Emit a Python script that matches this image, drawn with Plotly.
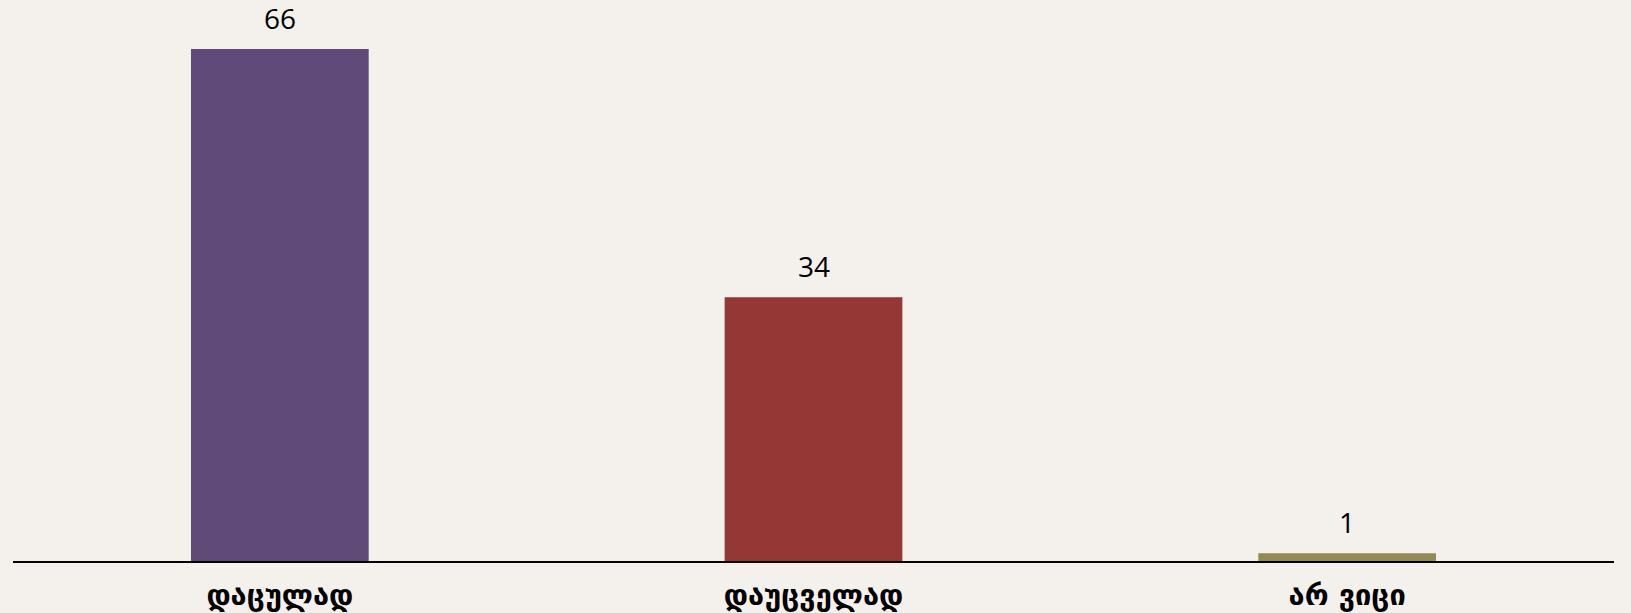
import plotly.graph_objects as go

categories = ['დაცულად', 'დაუცველად', 'არ ვიცი']
values = [66, 34, 1]
colors = ['#5F4A7A', '#953735', '#948A54']

fig = go.Figure()
fig.add_trace(go.Bar(x=categories, y=values, marker_color=colors,
                     marker_line_width=0, hoverinfo='skip'))

annotations = []
for c, v in zip(categories, values):
    annotations.append({'x': c, 'y': v, 'text': str(v), 'showarrow': False,
                        'yanchor': 'bottom', 'yshift': 10,
                        'font': {'family': 'Open Sans', 'size': 28, 'color': '#000000'}})

fig.update_layout(width=1631, height=613,
                  margin=dict(l=13, r=17, t=18, b=52),
                  paper_bgcolor='#F4F1EC', plot_bgcolor='#F4F1EC',
                  bargap=0.667, showlegend=False,
                  annotations=annotations)
fig.update_xaxes(showline=True, linecolor='#000000', linewidth=2,
                 ticks='', showgrid=False, ticklabelstandoff=7,
                 automargin=False,
                 tickfont=dict(family='DejaVu Sans', size=29, color='#000000',
                               weight='bold'))
fig.update_yaxes(range=[0, 70], visible=False, showgrid=False)

fig.write_html('out.html', config={'displayModeBar': False},
               post_script="document.body.style.margin='0';")
